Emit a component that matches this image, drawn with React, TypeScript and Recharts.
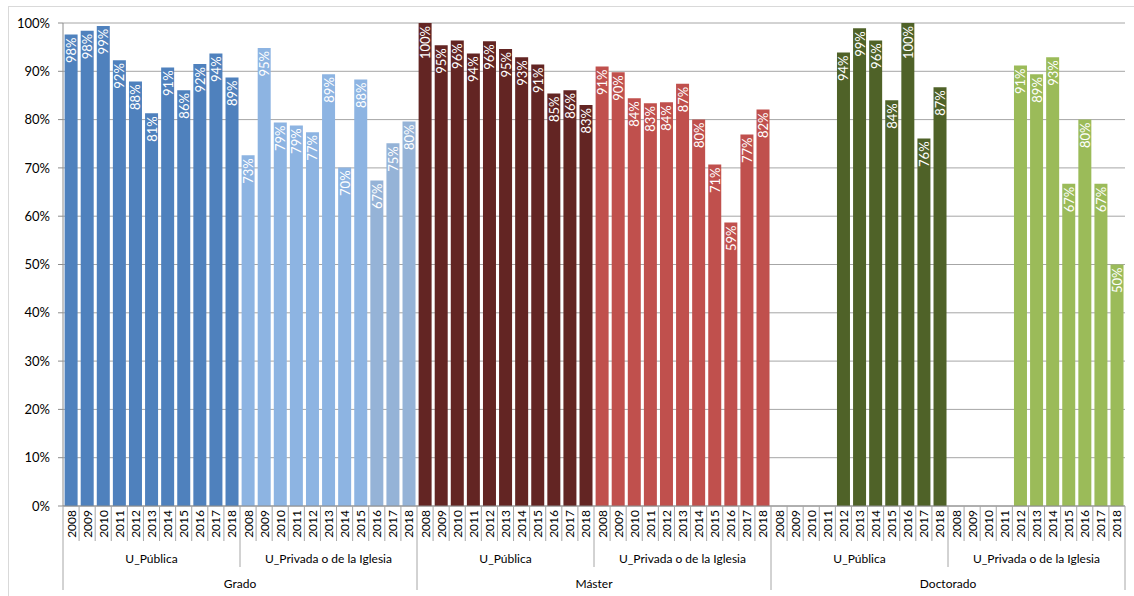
import React from 'react';
import { BarChart, Bar, XAxis, YAxis, CartesianGrid, Cell, LabelList } from 'recharts';

// ---- data ----
const years = ['2008', '2009', '2010', '2011', '2012', '2013', '2014', '2015', '2016', '2017', '2018'];
const levels = ['Grado', 'Máster', 'Doctorado'];
const uniTypes = ['U_Pública', 'U_Privada o de la Iglesia'];

const gradoPublica = [97.6, 98.4, 99.4, 92.3, 87.9, 81.3, 90.8, 86.1, 91.5, 93.7, 88.7];
const gradoPrivada = [72.6, 94.8, 79.4, 78.8, 77.4, 89.4, 70.1, 88.3, 67.4, 75.1, 79.6];
const masterPublica = [100, 95.4, 96.4, 93.7, 96.2, 94.6, 92.9, 91.4, 85.4, 86.1, 83.0];
const masterPrivada = [91.0, 89.8, 84.4, 83.4, 83.6, 87.4, 80.0, 70.7, 58.7, 76.9, 82.1];
const doctoradoPublica = [null, null, null, null, 93.9, 98.9, 96.4, 84.0, 100, 76.1, 86.7];
const doctoradoPrivada = [null, null, null, null, 91.2, 89.4, 92.9, 66.7, 80.0, 66.7, 50.0];

const yTicks = [0, 10, 20, 30, 40, 50, 60, 70, 80, 90, 100];

const seriesByLevel = [
  [gradoPublica, gradoPrivada],
  [masterPublica, masterPrivada],
  [doctoradoPublica, doctoradoPrivada],
];

// ---- styles ----
const COLORS = [
  ['#4F81BD', '#8DB4E2'],
  ['#632523', '#C0504D'],
  ['#4F6228', '#9BBB59'],
];
const GRADO_PRIV_LATE = '#95B3D7';
const FONT = 'Lato, "Open Sans", sans-serif';
const W = 1134;
const H = 596;
const M = { top: 23, right: 9, bottom: 0, left: 8 };
const Y_W = 55;
const X_H = 90;
const PLOT_W = W - M.left - M.right - Y_W;

type Row = { key: string; level: string; uni: string; year: string; value: number | null; li: number; ui: number; yi: number };
const data: Row[] = [];
levels.forEach((lv, li) =>
  uniTypes.forEach((ut, ui) =>
    years.forEach((yr, yi) =>
      data.push({ key: `${lv}|${ut}|${yr}`, level: lv, uni: ut, year: yr, value: seriesByLevel[li][ui][yi], li, ui, yi })
    )
  )
);
const indexByKey: Record<string, number> = {};
data.forEach((d, i) => (indexByKey[d.key] = i));
const N = data.length;
const BAND = PLOT_W / N;
const SEP = '#A6A6A6';

const colorFor = (d: Row) => (d.li === 0 && d.ui === 1 && d.yi >= 8 ? GRADO_PRIV_LATE : COLORS[d.li][d.ui]);

const CatTick = (props: any) => {
  const { x, y, payload } = props;
  const i = indexByKey[payload.value];
  const d = data[i];
  if (!d) return null;
  const left = x - BAND / 2;
  const right = x + BAND / 2;
  const depth = d.yi === 0 && d.ui === 0 ? 84 : d.yi === 0 ? 61 : 35;
  return (
    <g>
      <line x1={left} x2={left} y1={y} y2={y + depth} stroke={SEP} strokeWidth={1} />
      {i === N - 1 && <line x1={right} x2={right} y1={y} y2={y + 84} stroke={SEP} strokeWidth={1} />}
      <text
        transform={`translate(${x},${y + 4}) rotate(-90)`}
        textAnchor="end"
        dominantBaseline="central"
        fontSize={12}
        fontFamily={FONT}
        fill="#000"
      >
        {d.year}
      </text>
      {d.yi === 5 && (
        <text x={x} y={y + 52} textAnchor="middle" dominantBaseline="central" fontSize={12} fontFamily={FONT} fill="#000">
          {d.uni}
        </text>
      )}
      {d.yi === 10 && d.ui === 0 && (
        <text x={right} y={y + 77} textAnchor="middle" dominantBaseline="central" fontSize={12} fontFamily={FONT} fill="#000">
          {d.level}
        </text>
      )}
    </g>
  );
};

const ValueLabel = (props: any) => {
  const { x, y, width, value } = props;
  if (value === null || value === undefined) return null;
  const cx = x + width / 2;
  return (
    <text
      transform={`translate(${cx},${y + 3}) rotate(-90)`}
      textAnchor="end"
      dominantBaseline="central"
      fontSize={13}
      fontFamily={FONT}
      fill="#FFFFFF"
    >
      {`${Math.round(value)}%`}
    </text>
  );
};

export default function App() {
  return (
    <div style={{ position: 'absolute', left: 0, top: 0, width: W, height: H, background: '#fff', overflow: 'hidden' }}>
      <div
        style={{
          position: 'absolute',
          left: 8,
          top: 6,
          width: W,
          height: H,
          borderLeft: '1px solid #D9D9D9',
          borderTop: '1px solid #D9D9D9',
        }}
      />
      <div style={{ position: 'absolute', left: 0, top: 0 }}>
        <BarChart width={W} height={H} data={data} margin={M} barCategoryGap="10%">
          <CartesianGrid vertical={false} stroke="#A6A6A6" strokeWidth={1} />
          <XAxis
            dataKey="key"
            interval={0}
            tickLine={false}
            tickSize={0}
            tickMargin={0}
            axisLine={{ stroke: '#8C8C8C' }}
            height={X_H}
            tick={<CatTick />}
          />
          <YAxis
            domain={[0, 100]}
            ticks={yTicks}
            width={Y_W}
            tickSize={5}
            tickMargin={8}
            tickLine={{ stroke: '#8C8C8C' }}
            axisLine={{ stroke: '#8C8C8C' }}
            tickFormatter={(v: number) => `${v}%`}
            tick={{ fill: '#000', fontSize: 13, fontFamily: FONT }}
          />
          <Bar dataKey="value" isAnimationActive={false}>
            {data.map((d) => (
              <Cell key={d.key} fill={colorFor(d)} />
            ))}
            <LabelList dataKey="value" content={<ValueLabel />} />
          </Bar>
        </BarChart>
      </div>
    </div>
  );
}
